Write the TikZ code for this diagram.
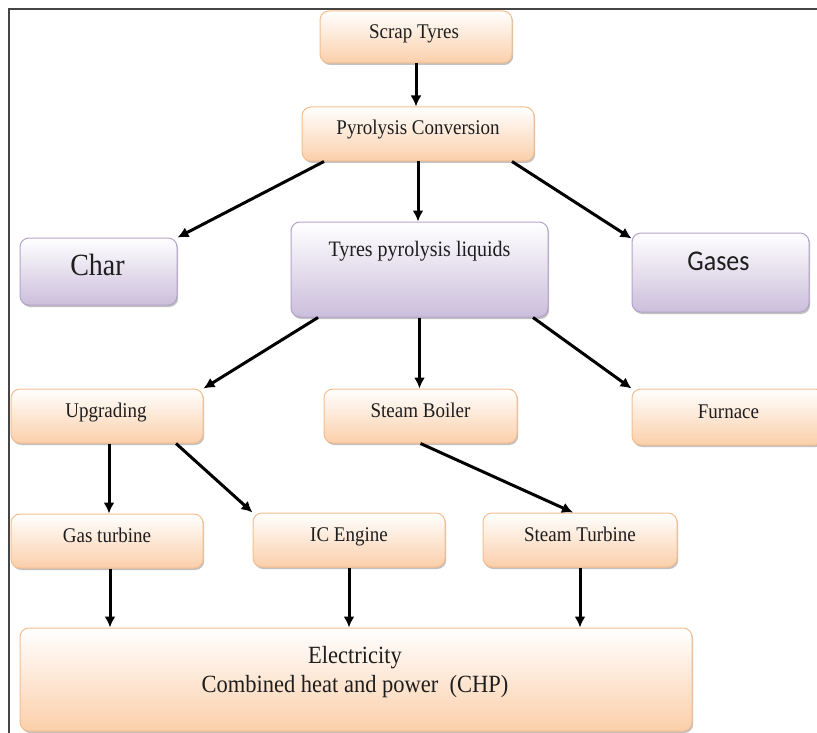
\documentclass[tikz,border=0pt]{standalone}
\usepackage{graphicx}
\usepackage{fontspec}
\setmainfont{Liberation Serif}
\newfontfamily\gasfont{Carlito}
\usetikzlibrary{arrows.meta,shadows,calc}
\definecolor{orgB}{HTML}{FBCFAA}
\definecolor{orgD}{HTML}{F5BE8E}
\definecolor{purB}{HTML}{CBBEDB}
\definecolor{purD}{HTML}{B3A3CB}
\definecolor{frameC}{HTML}{454545}
\definecolor{txtC}{HTML}{1E1E1E}
\newcommand\vtxt[1]{\scalebox{1}[1.1]{#1}}
\begin{document}
\begin{tikzpicture}[x=1pt,y=-1pt,
 base/.style={rectangle,rounded corners=9pt,inner sep=0pt,line width=1pt,
   drop shadow={shadow xshift=1.2pt,shadow yshift=-2pt,opacity=0.35,fill=black!70}},
 obox/.style={base,draw=orgD,top color=white,bottom color=orgB},
 pbox/.style={base,draw=purD,top color=white,bottom color=purB},
 txt/.style={anchor=base,inner sep=0pt,text=txtC,font=\fontsize{19}{22}\selectfont},
 arr/.style={line width=3pt,-{Latex[length=11pt,width=11pt]}},
]
\useasboundingbox (0,0) rectangle (817,733);
\coordinate (fa) at (9,733);
\coordinate (fb) at (9,9);
\coordinate (fc) at (817,9);
\draw[frameC,line width=1.5pt] (fa) -- (fb) -- (fc);

\node[obox,minimum width=192pt,minimum height=52pt] (scrap) at (416,37) {};
\node[obox,minimum width=232pt,minimum height=54pt] (pyro) at (418,134) {};
\node[pbox,minimum width=157pt,minimum height=67pt] (char) at (98.5,271.5) {};
\node[pbox,minimum width=257pt,minimum height=95pt] (liq) at (419.5,269.5) {};
\node[pbox,minimum width=177pt,minimum height=79pt] (gases) at (720.5,272.5) {};
\node[obox,minimum width=192pt,minimum height=54pt] (upg) at (107,416) {};
\node[obox,minimum width=193pt,minimum height=54pt] (boiler) at (420.5,416) {};
\node[obox,minimum width=192pt,minimum height=56pt] (furn) at (728,417) {};
\node[obox,minimum width=192pt,minimum height=54pt] (gast) at (107,541) {};
\node[obox,minimum width=192pt,minimum height=54pt] (ice) at (349,540) {};
\node[obox,minimum width=194pt,minimum height=54pt] (stt) at (580,540) {};
\node[obox,minimum width=672pt,minimum height=103pt] (elec) at (356,679.5) {};

\node[txt] (scrapT) at ($(scrap.center)+(-2,2)$) {\vtxt{Scrap Tyres}};
\node[txt] (pyroT) at ($(pyro.center)+(0,1)$) {\vtxt{Pyrolysis Conversion}};
\node[txt,font=\fontsize{28}{32}\selectfont] (charT) at ($(char.center)+(-1,3.5)$) {\vtxt{Char}};
\node[txt,font=\fontsize{20}{24}\selectfont] (liqT) at ($(liq.center)+(0,-13.5)$) {\vtxt{Tyres pyrolysis liquids}};
\node[txt,font=\gasfont\fontsize{26}{30}\selectfont] (gasesT) at ($(gases.center)+(-2,-2.5)$) {\vtxt{Gases}};
\node[txt] (upgT) at ($(upg.center)+(-1,1)$) {\vtxt{Upgrading}};
\node[txt] (boilerT) at ($(boiler.center)+(0,1)$) {\vtxt{Steam Boiler}};
\node[txt] (furnT) at (728.5,418) {\vtxt{Furnace}};
\node[txt] (gastT) at ($(gast.center)+(0,1)$) {\vtxt{Gas turbine}};
\node[txt] (iceT) at ($(ice.center)+(0,1)$) {\vtxt{IC Engine}};
\node[txt] (sttT) at ($(stt.center)+(0,1)$) {\vtxt{Steam Turbine}};
\node[txt,font=\fontsize{22.5}{29}\selectfont] (elecT1) at (355,663) {\vtxt{Electricity}};
\node[txt,font=\fontsize{22.5}{29}\selectfont] (elecT2) at (355,692) {\vtxt{Combined heat and power\ \ (CHP)}};

\draw[arr] (scrap.south) -- (scrap.south |- pyro.north);
\draw[arr] ([xshift=-94pt]pyro.south) -- (char.north east);
\draw[arr] (pyro.south) -- (pyro.south |- liq.north);
\draw[arr] ([xshift=94pt]pyro.south) -- ([yshift=-6pt]gases.north west);
\draw[arr] ([xshift=-101.5pt]liq.south) -- (upg.north east);
\draw[arr] (liq.south) -- (liq.south |- boiler.north);
\draw[arr] ([xshift=113.5pt]liq.south) -- (furn.north west);
\draw[arr] ([xshift=2pt]upg.south) -- ([xshift=2pt]upg.south |- gast.north);
\draw[arr] ([xshift=69pt]upg.south) -- (ice.north west);
\draw[arr] (boiler.south) -- ([xshift=-7pt]stt.north);
\draw[arr] ([xshift=3pt]gast.south) -- ([xshift=3pt]gast.south |- elec.north);
\draw[arr] (ice.south) -- (ice.south |- elec.north);
\draw[arr] (stt.south) -- (stt.south |- elec.north);
\end{tikzpicture}
\end{document}
